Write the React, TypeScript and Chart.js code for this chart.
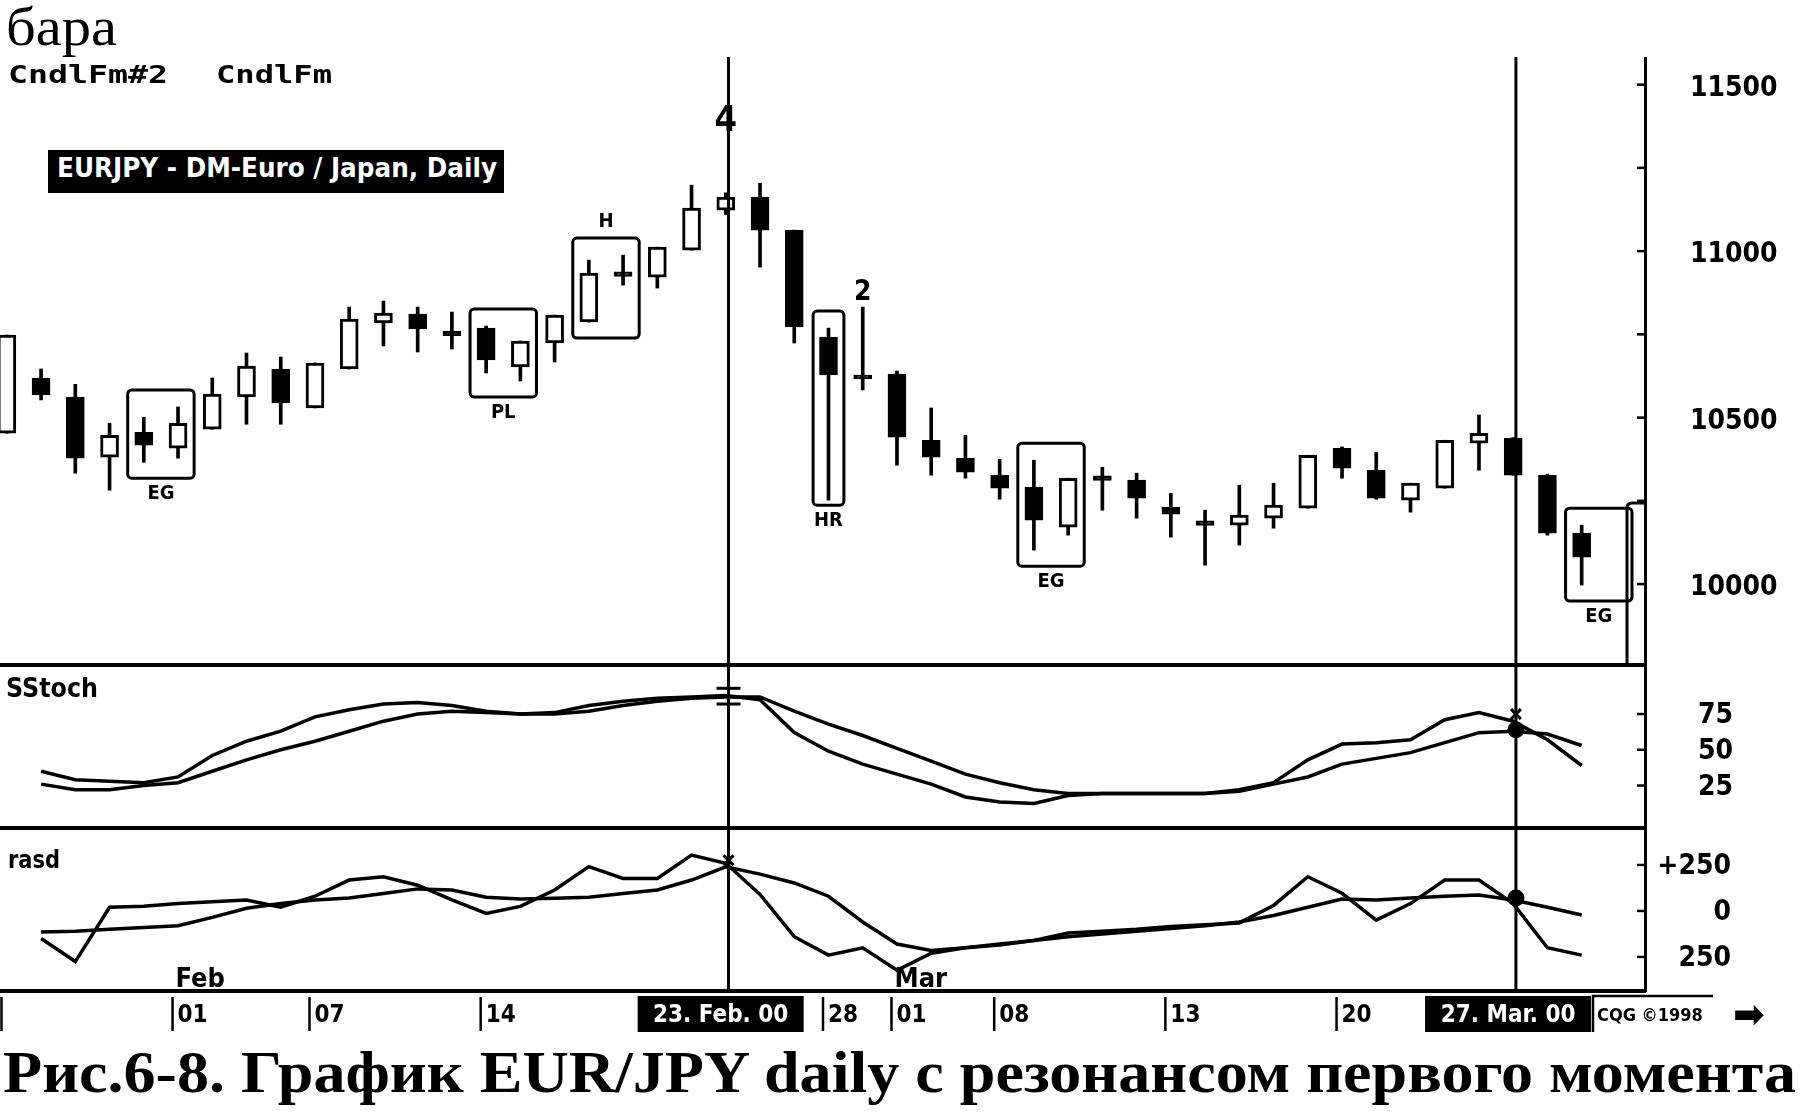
import React, { useEffect, useLayoutEffect, useRef } from 'react';
import { Chart, registerables } from 'chart.js';

Chart.register(...registerables);

// ---------------- data ----------------
const DATES = ['25 Jan', '26 Jan', '27 Jan', '28 Jan', '31 Jan', '01 Feb', '02 Feb', '03 Feb', '04 Feb', '07 Feb', '08 Feb', '09 Feb', '10 Feb', '11 Feb', '14 Feb', '15 Feb', '16 Feb', '17 Feb', '18 Feb', '21 Feb', '22 Feb', '23 Feb', '24 Feb', '25 Feb', '28 Feb', '29 Feb', '01 Mar', '02 Mar', '03 Mar', '06 Mar', '07 Mar', '08 Mar', '09 Mar', '10 Mar', '13 Mar', '14 Mar', '15 Mar', '16 Mar', '17 Mar', '20 Mar', '21 Mar', '22 Mar', '23 Mar', '24 Mar', '27 Mar', '28 Mar', '29 Mar'];

const OPEN = [10453, 10619, 10562, 10381, 10456, 10408, 10465, 10562, 10646, 10529, 10646, 10784, 10811, 10760, 10769, 10652, 10724, 10787, 10938, 10922, 11003, 11123, 11162, 11063, 10742, 10628, 10631, 10432, 10378, 10327, 10291, 10171, 10325, 10312, 10231, 10190, 10177, 10198, 10228, 10408, 10342, 10252, 10288, 10423, 10438, 10327, 10153];
const HIGH = [10748, 10646, 10600, 10483, 10501, 10532, 10619, 10694, 10682, 10664, 10832, 10850, 10832, 10817, 10775, 10730, 10808, 10973, 10988, 11012, 11198, 11175, 11204, 11063, 10769, 10832, 10640, 10529, 10447, 10375, 10372, 10318, 10351, 10333, 10273, 10222, 10297, 10303, 10387, 10412, 10396, 10303, 10432, 10508, 10440, 10330, 10177];
const LOW = [10453, 10553, 10333, 10282, 10366, 10378, 10465, 10480, 10480, 10529, 10646, 10715, 10697, 10706, 10634, 10610, 10667, 10787, 10898, 10889, 11003, 11110, 10952, 10724, 10252, 10583, 10357, 10327, 10318, 10255, 10102, 10147, 10222, 10198, 10141, 10057, 10117, 10168, 10228, 10318, 10255, 10216, 10288, 10342, 10327, 10147, 9997];
const CLOSE = [10748, 10568, 10378, 10447, 10417, 10483, 10571, 10655, 10544, 10664, 10796, 10814, 10766, 10746, 10673, 10730, 10808, 10934, 10924, 11012, 11129, 11162, 11063, 10772, 10628, 10616, 10441, 10381, 10336, 10288, 10192, 10318, 10311, 10258, 10210, 10176, 10207, 10237, 10387, 10348, 10258, 10303, 10432, 10453, 10327, 10153, 10081];

// SStoch: fast and slow lines
const STOCH_FAST = [null, 35, 29, 28, 27, 31, 46, 56, 63, 73, 78, 82, 83, 81, 77, 75, 76, 81, 84, 86, 87, 88, 85, 62, 49, 40, 33, 26, 17, 13.5, 12.5, 18, 19.5, 19.5, 19.5, 19.5, 22, 27, 43, 54, 55, 57, 71, 76, 70, 57, 39];
const STOCH_SLOW = [null, 26, 22, 22, 25, 27, 35, 43, 50, 56, 63, 70, 75, 77, 76, 75, 75, 77, 81, 84, 86, 87, 87, 77, 68, 60, 51, 42, 33, 27, 22, 19.5, 19.5, 19.5, 19.5, 19.5, 21, 26, 31, 40, 44, 48, 55, 62, 63, 61, 53];

// rasd: two lines
const RASD_A = [null, -150, -275, 20, 25, 40, 50, 60, 20, 80, 168, 186, 140, 60, -13, 25, 114, 241, 177, 177, 304, 259, 90, -140, -240, -200, -322, -230, -200, -185, -160, -120, -110, -100, -85, -75, -65, 30, 186, 96, -50, 40, 168, 168, 40, -200, -240];
const RASD_B = [null, -115, -110, -100, -90, -80, -35, 15, 40, 60, 70, 95, 120, 114, 75, 65, 69, 75, 95, 114, 168, 240, 200, 152, 80, -60, -180, -215, -200, -180, -160, -140, -125, -110, -95, -80, -60, -25, 20, 65, 60, 70, 80, 87, 60, 20, -22];

// axis ticks
const PRICE_TICKS = [10000, 10500, 11000, 11500];
const PRICE_MINOR = [10000, 10250, 10500, 10750, 11000, 11250, 11500];
const STOCH_TICKS = [25, 50, 75];
const RASD_TICKS = [-250, 0, 250];

// date axis
const DAY_TICK_IDX = [0, 5, 9, 14, 24, 26, 29, 34, 39];
const DAY_TICK_LABELS = ['', '01', '07', '14', '28', '01', '08', '13', '20'];
const MONTH_IDX = [5, 26];
const MONTH_LABELS = ['Feb', 'Mar'];
const CURSOR_IDX = [21, 44];
const CURSOR_LABELS = ['23. Feb. 00', '27. Mar. 00'];

// candle pattern annotations
const PATTERNS = [
  { text: 'EG', from: 4, to: 5, side: 'below' },
  { text: 'PL', from: 14, to: 15, side: 'below' },
  { text: 'H', from: 17, to: 18, side: 'above' },
  { text: 'HR', from: 24, to: 24, side: 'below' },
  { text: 'EG', from: 30, to: 31, side: 'below' },
  { text: 'EG', from: 46, to: 47, side: 'below' },
];
const COUNT_LABELS = [
  { text: '4', at: 21, price: 11390 },
  { text: '2', at: 25, price: 10874 },
];

// markers on the oscillators at the two cursor dates
const STOCH_MARKS = [
  { x: 21, y: 93, style: 'line' },
  { x: 21, y: 82, style: 'line' },
  { x: 44, y: 75, style: 'crossRot' },
  { x: 44, y: 64, style: 'circle' },
];
const RASD_MARKS = [
  { x: 21, y: 275, style: 'crossRot' },
  { x: 44, y: 70, style: 'circle' },
];

const TITLE = 'EURJPY - DM-Euro / Japan, Daily';
const CAPTION = 'Рис.6-8. График EUR/JPY daily с резонансом первого момента';

// ---------------- style / layout ----------------
const NARROW = "'Liberation Sans Narrow', 'DejaVu Sans Condensed', 'Arial Narrow', sans-serif";
const SERIF = "'Liberation Serif', 'DejaVu Serif', serif";
const MONO = "'DejaVu Sans Mono', 'Liberation Mono', monospace";
const W = 1803;
const AXIS_W = 158;
const XMIN = -0.2;
const XMAX = 47.85;
const CURSOR_SHIFT = 0.08;
const TICK_SHIFT = 0.16;

const MAIN = { top: 57, h: 610, min: 9751, max: 11583 };
const STOCH = { top: 667, h: 163, min: -6.1, max: 107.9 };
const RASD = { top: 830, h: 161, min: -435, max: 440, extra: 49 };

const fmtPrice = (v: number) => String(v);
const fmtStoch = (v: number) => String(v);
const fmtRasd = (v: number) => (v > 0 ? '+' + v : String(Math.abs(v)));

function xScale() {
  return { type: 'linear', min: XMIN, max: XMAX, display: false, offset: false };
}

function rightAxis(cfg: any) {
  return {
    type: 'linear',
    position: 'right',
    min: cfg.min,
    max: cfg.max,
    afterBuildTicks: (s: any) => {
      s.ticks = cfg.ticks.map((v: number) => ({ value: v }));
    },
    afterFit: (s: any) => {
      s.width = cfg.width;
      s.paddingTop = 0;
      s.paddingBottom = 0;
    },
    grid: { display: true, drawOnChartArea: false, drawTicks: false },
    border: { display: true, color: '#000', width: 3 },
    ticks: {
      color: '#000',
      font: { family: NARROW, size: cfg.size, weight: 'bold' },
      padding: cfg.padding,
      crossAlign: cfg.crossAlign,
      labelOffset: cfg.labelOffset || 0,
      callback: (v: any) => cfg.format(Number(v)),
    },
  };
}

function baseOptions(y: any, padBottom = 0, padRight = 0) {
  return {
    animation: false,
    responsive: false,
    maintainAspectRatio: false,
    devicePixelRatio: 1,
    events: [],
    layout: { autoPadding: false, padding: { left: 0, right: padRight, top: 0, bottom: padBottom } },
    plugins: { legend: { display: false }, tooltip: { enabled: false } },
    scales: { x: xScale(), y },
  };
}

function drawCursors(chart: any, fromTop: number) {
  const { ctx, chartArea: ca, scales } = chart;
  ctx.save();
  ctx.strokeStyle = '#000';
  ctx.lineWidth = 3;
  CURSOR_IDX.forEach((idx) => {
    const px = scales.x.getPixelForValue(idx + CURSOR_SHIFT);
    ctx.beginPath();
    ctx.moveTo(px, fromTop);
    ctx.lineTo(px, ca.bottom);
    ctx.stroke();
  });
  ctx.restore();
}

function drawSeparator(chart: any, inset: number) {
  const { ctx, chartArea: ca } = chart;
  ctx.save();
  ctx.strokeStyle = '#000';
  ctx.lineWidth = 4;
  ctx.beginPath();
  ctx.moveTo(0, ca.bottom - inset);
  ctx.lineTo(ca.right + 1, ca.bottom - inset);
  ctx.stroke();
  ctx.restore();
}

function drawInnerTicks(chart: any, values: number[]) {
  const { ctx, chartArea: ca, scales } = chart;
  ctx.save();
  ctx.strokeStyle = '#000';
  ctx.lineWidth = 2.5;
  values.forEach((v) => {
    const py = scales.y.getPixelForValue(v);
    ctx.beginPath();
    ctx.moveTo(ca.right - 8, py);
    ctx.lineTo(ca.right, py);
    ctx.stroke();
  });
  ctx.restore();
}

const mainDecor = {
  id: 'mainDecor',
  afterDatasetsDraw(chart: any) {
    const { ctx, chartArea: ca, scales } = chart;
    const x = scales.x;
    const y = scales.y;
    ctx.save();
    ctx.strokeStyle = '#000';
    ctx.fillStyle = '#000';
    ctx.lineWidth = 3;
    PATTERNS.forEach((p) => {
      const idxs: number[] = [];
      for (let i = p.from; i <= p.to; i++) if (i < HIGH.length) idxs.push(i);
      const pad = p.from === p.to ? 0.45 : 0.47;
      const left = x.getPixelForValue(p.from - pad);
      const right = x.getPixelForValue(p.to + pad);
      const top = Math.min(...idxs.map((i) => y.getPixelForValue(HIGH[i]))) - 17;
      const bottom = Math.max(...idxs.map((i) => y.getPixelForValue(LOW[i]))) + (p.text === 'HR' ? 5 : 16);
      ctx.beginPath();
      if (ctx.roundRect) ctx.roundRect(left, top, right - left, bottom - top, 4);
      else ctx.rect(left, top, right - left, bottom - top);
      ctx.stroke();
      ctx.font = `bold 20px ${NARROW}`;
      ctx.textAlign = 'center';
      ctx.textBaseline = 'middle';
      ctx.fillText(p.text, (left + right) / 2, p.side === 'below' ? bottom + 16 : top - 16);
    });
    COUNT_LABELS.forEach((c) => {
      ctx.font = `bold ${c.text === '4' ? 36 : 28}px ${NARROW}`;
      ctx.textAlign = 'center';
      ctx.textBaseline = 'middle';
      ctx.fillText(c.text, x.getPixelForValue(c.at), y.getPixelForValue(c.price));
    });
    // scroll marker at the right edge
    const x1 = ca.right - 18;
    const yTop = ca.bottom - 164;
    ctx.beginPath();
    ctx.moveTo(x1, ca.bottom);
    ctx.lineTo(x1, yTop + 5);
    ctx.quadraticCurveTo(x1, yTop, x1 + 5, yTop);
    ctx.lineTo(ca.right, yTop);
    ctx.stroke();
    ctx.restore();
    drawInnerTicks(chart, PRICE_MINOR);
    drawCursors(chart, 0);
    drawSeparator(chart, 2);
  },
};

const stochDecor = {
  id: 'stochDecor',
  afterDatasetsDraw(chart: any) {
    drawInnerTicks(chart, STOCH_TICKS);
    drawCursors(chart, 0);
    drawSeparator(chart, 2);
  },
};

const rasdDecor = {
  id: 'rasdDecor',
  afterDatasetsDraw(chart: any) {
    drawInnerTicks(chart, RASD_TICKS);
    drawCursors(chart, 0);
    drawSeparator(chart, 0);
  },
  afterDraw(chart: any) {
    const { ctx, chartArea: ca, scales } = chart;
    const x = scales.x;
    const b = ca.bottom;
    ctx.save();
    ctx.fillStyle = '#000';
    ctx.strokeStyle = '#000';
    ctx.textBaseline = 'alphabetic';
    ctx.textAlign = 'left';
    ctx.font = `bold 27px ${NARROW}`;
    MONTH_IDX.forEach((idx, k) => {
      ctx.fillText(MONTH_LABELS[k], x.getPixelForValue(idx - TICK_SHIFT) + 3, b - 4);
    });
    ctx.lineWidth = 2.5;
    ctx.font = `bold 24px ${NARROW}`;
    DAY_TICK_IDX.forEach((idx, k) => {
      const px = Math.max(1.5, x.getPixelForValue(idx - TICK_SHIFT));
      ctx.beginPath();
      ctx.moveTo(px, b + 6);
      ctx.lineTo(px, b + 40);
      ctx.stroke();
      ctx.fillText(DAY_TICK_LABELS[k], px + 5, b + 31);
    });
    CURSOR_IDX.forEach((idx, k) => {
      const cx = x.getPixelForValue(idx - 0.15);
      ctx.fillStyle = '#000';
      ctx.fillRect(cx - 83, b + 5, 166, 36);
      ctx.fillStyle = '#fff';
      ctx.textAlign = 'center';
      ctx.fillText(CURSOR_LABELS[k], cx, b + 31);
    });
    // copyright box and arrow
    const cqx = ca.right - 52;
    ctx.fillStyle = '#000';
    ctx.lineWidth = 2.5;
    ctx.beginPath();
    ctx.moveTo(cqx, b + 41);
    ctx.lineTo(cqx, b + 5);
    ctx.lineTo(cqx + 120, b + 5);
    ctx.stroke();
    ctx.textAlign = 'left';
    ctx.font = `bold 18px ${NARROW}`;
    ctx.fillText('CQG ©1998', cqx + 4, b + 30);
    ctx.font = `bold 38px 'DejaVu Sans', sans-serif`;
    ctx.textAlign = 'center';
    ctx.fillText('➡', ca.right + 104, b + 36);
    ctx.restore();
  },
};

function lineSet(values: (number | null)[]) {
  return {
    type: 'line',
    data: values.map((v, i) => ({ x: i, y: v })),
    borderColor: '#000',
    borderWidth: 3.5,
    pointRadius: 0,
    tension: 0,
    fill: false,
    spanGaps: false,
  };
}

function markSet(marks: { x: number; y: number; style: string }[]) {
  return {
    type: 'scatter',
    data: marks.map((m) => ({ x: m.x + CURSOR_SHIFT, y: m.y })),
    pointStyle: marks.map((m) => m.style),
    pointRadius: marks.map((m) => (m.style === 'line' ? 12 : 7)),
    borderColor: '#000',
    backgroundColor: '#000',
    borderWidth: 3,
    showLine: false,
  };
}

function FitText(props: { text: string; left: number; top: number; width: number; font: string; color?: string }) {
  const ref = useRef<HTMLSpanElement>(null);
  useLayoutEffect(() => {
    const el = ref.current;
    if (!el) return;
    el.style.transform = 'none';
    const w = el.getBoundingClientRect().width;
    if (w > 0) el.style.transform = `scaleX(${props.width / w})`;
  }, [props.text, props.width, props.font]);
  return (
    <span
      ref={ref}
      style={{
        position: 'absolute',
        left: props.left,
        top: props.top,
        font: props.font,
        lineHeight: 1,
        color: props.color || '#000',
        whiteSpace: 'nowrap',
        display: 'inline-block',
        transformOrigin: '0 0',
      }}
    >
      {props.text}
    </span>
  );
}

export default function App() {
  const mainRef = useRef<HTMLCanvasElement>(null);
  const stochRef = useRef<HTMLCanvasElement>(null);
  const rasdRef = useRef<HTMLCanvasElement>(null);

  useEffect(() => {
    const charts: Chart[] = [];
    const bodyColors = OPEN.map((o, i) => (CLOSE[i] >= o ? '#fff' : '#000'));
    charts.push(
      new Chart(mainRef.current!, {
        type: 'bar',
        data: {
          labels: DATES,
          datasets: [
            {
              data: OPEN.map((o, i) => ({ x: i, y: [o, CLOSE[i]] })),
              backgroundColor: bodyColors,
              borderColor: '#000',
              borderWidth: 3,
              borderSkipped: false,
              barThickness: 18,
              grouped: false,
              order: 0,
            } as any,
            {
              data: LOW.map((l, i) => ({ x: i, y: [l, HIGH[i]] })),
              backgroundColor: '#000',
              borderWidth: 0,
              barThickness: 3,
              grouped: false,
              order: 1,
            } as any,
          ],
        },
        options: baseOptions(
          rightAxis({ min: MAIN.min, max: MAIN.max, ticks: PRICE_TICKS, size: 28, padding: 45, crossAlign: 'near', labelOffset: 4, width: AXIS_W, format: fmtPrice })
        ) as any,
        plugins: [mainDecor],
      })
    );

    charts.push(
      new Chart(stochRef.current!, {
        type: 'line',
        data: { datasets: [lineSet(STOCH_FAST), lineSet(STOCH_SLOW), markSet(STOCH_MARKS)] as any },
        options: baseOptions(
          rightAxis({ min: STOCH.min, max: STOCH.max, ticks: STOCH_TICKS, size: 28, padding: 0, crossAlign: 'far', labelOffset: 2, width: 88, format: fmtStoch }),
          0,
          70
        ) as any,
        plugins: [stochDecor],
      })
    );

    charts.push(
      new Chart(rasdRef.current!, {
        type: 'line',
        data: { datasets: [lineSet(RASD_A), lineSet(RASD_B), markSet(RASD_MARKS)] as any },
        options: baseOptions(
          rightAxis({ min: RASD.min, max: RASD.max, ticks: RASD_TICKS, size: 28, padding: 0, crossAlign: 'far', labelOffset: 2, width: 86, format: fmtRasd }),
          RASD.extra,
          72
        ) as any,
        plugins: [rasdDecor],
      })
    );

    return () => charts.forEach((c) => c.destroy());
  }, []);

  const cv = (top: number, h: number) => ({ position: 'absolute' as const, left: 0, top, width: W, height: h, display: 'block' });

  return (
    <div style={{ position: 'fixed', left: 0, top: 0, width: W, height: 1112, background: '#fff', overflow: 'hidden' }}>
      <canvas ref={mainRef} width={W} height={MAIN.h} style={cv(MAIN.top, MAIN.h)} />
      <canvas ref={stochRef} width={W} height={STOCH.h} style={cv(STOCH.top, STOCH.h)} />
      <canvas ref={rasdRef} width={W} height={RASD.h + RASD.extra} style={cv(RASD.top, RASD.h + RASD.extra)} />

      <FitText text="бара" left={6} top={-1} width={111} font={`55px ${SERIF}`} />
      <FitText text="CndlFm#2" left={8} top={62} width={160} font={`bold 25px ${MONO}`} />
      <FitText text="CndlFm" left={216} top={62} width={116} font={`bold 25px ${MONO}`} />
      <div style={{ position: 'absolute', left: 48, top: 150, width: 456, height: 43, background: '#000' }} />
      <FitText text={TITLE} left={57} top={154} width={440} font={`bold 27px ${NARROW}`} color="#fff" />
      <FitText text="SStoch" left={6} top={675} width={92} font={`bold 26px ${NARROW}`} />
      <FitText text="rasd" left={8} top={848} width={52} font={`bold 24px ${NARROW}`} />
      <FitText text={CAPTION} left={3} top={1042} width={1793} font={`bold 60px ${SERIF}`} />
    </div>
  );
}
